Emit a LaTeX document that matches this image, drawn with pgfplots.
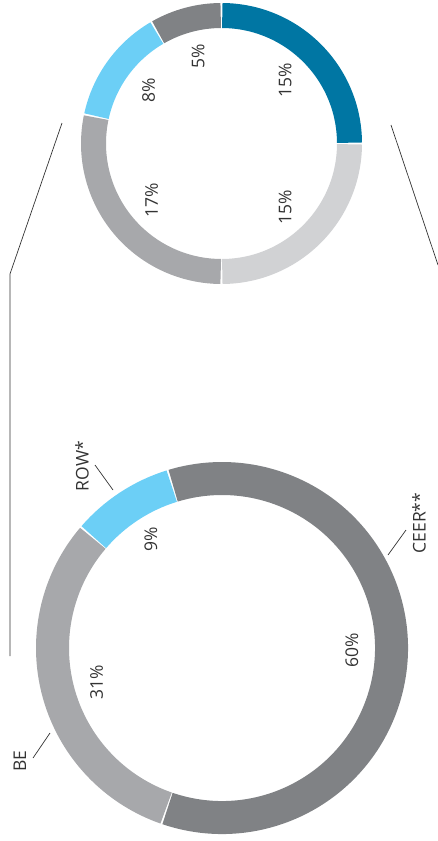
\documentclass[border=0pt]{standalone}
\usepackage{pgfplots}
\pgfplotsset{compat=1.18}
\usepackage{fontspec}
\setmainfont{Open Sans}

\definecolor{dblue}{HTML}{0076A3}
\definecolor{lblue}{HTML}{6CCFF6}
\definecolor{lgray}{HTML}{D1D2D4}
\definecolor{mgray}{HTML}{A7A8AB}
\definecolor{dgray}{HTML}{808285}
\definecolor{ink}{HTML}{333333}

\tikzset{
    pct/.style  = {rotate=90, text=ink, font=\fontsize{17.5}{20}\selectfont},
    lead/.style = {draw=ink, line width=0.7pt}
}

\begin{document}
\begin{tikzpicture}
\begin{axis}[
    x         = 1pt,
    y         = 1pt,
    xmin      = 0,
    xmax      = 438,
    ymin      = 0,
    ymax      = 841,
    y dir     = reverse,
    hide axis,
    clip      = false]

    \coordinate (bl) at (axis cs:0,841);
    \coordinate (tr) at (axis cs:438,0);

    % total: ROW*, BE, CEER** (per cent), counter-clockwise from 107 deg
    \foreach \p/\c [remember=\e as \s (initially 107)] in {9/lblue, 31/mgray, 60/dgray}{
        \pgfmathsetmacro\e{\s+3.6*\p}
        \pgfmathsetmacro\a{\s+0.25}
        \pgfmathsetmacro\b{\e-0.25}
        \pgfmathsetmacro\m{(\s+\e)/2}
        \edef\temp{
            \noexpand\draw[line width=33pt, \c]
                ([shift={(\a:169.5pt)}]axis cs:222,648) arc[start angle=\a, end angle=\b, radius=169.5pt];
            \noexpand\node[pct] at ([shift={(\m:130pt)}]axis cs:222,648) {\p\noexpand\%};
        }
        \temp
    }

    % CEER** breakdown, counter-clockwise from 0 deg
    \foreach \p/\c [remember=\e as \s (initially 0)] in {15/dblue, 5/dgray, 8/lblue, 17/mgray, 15/lgray}{
        \pgfmathsetmacro\e{\s+6*\p}
        \pgfmathsetmacro\a{\s+0.35}
        \pgfmathsetmacro\b{\e-0.35}
        \pgfmathsetmacro\m{(\s+\e)/2}
        \edef\temp{
            \noexpand\draw[line width=25pt, \c]
                ([shift={(\a:128pt)}]axis cs:221.5,143.5) arc[start angle=\a, end angle=\b, radius=128pt];
            \noexpand\node[pct] at ([shift={(\m:90pt)}]axis cs:221.5,143.5) {\p\noexpand\%};
        }
        \temp
    }

    % labels of the big ring
    \node[pct] at (axis cs:20,761) {BE};
    \draw[lead] (axis cs:33,758) -- (axis cs:50,733);
    \node[pct] at (axis cs:82,466) {ROW*};
    \draw[lead] (axis cs:95,465) -- (axis cs:113,490);
    \node[pct] at (axis cs:419,523) {CEER**};
    \draw[lead] (axis cs:406,530) -- (axis cs:388,555);

    % connectors
    \draw[lead] (axis cs:62,123) -- (axis cs:10,274) -- (axis cs:10,656);
    \draw[lead] (axis cs:391,125) -- (axis cs:438,265);
\end{axis}
\pgfresetboundingbox
\path[use as bounding box] (bl) rectangle (tr);
\end{tikzpicture}
\end{document}
